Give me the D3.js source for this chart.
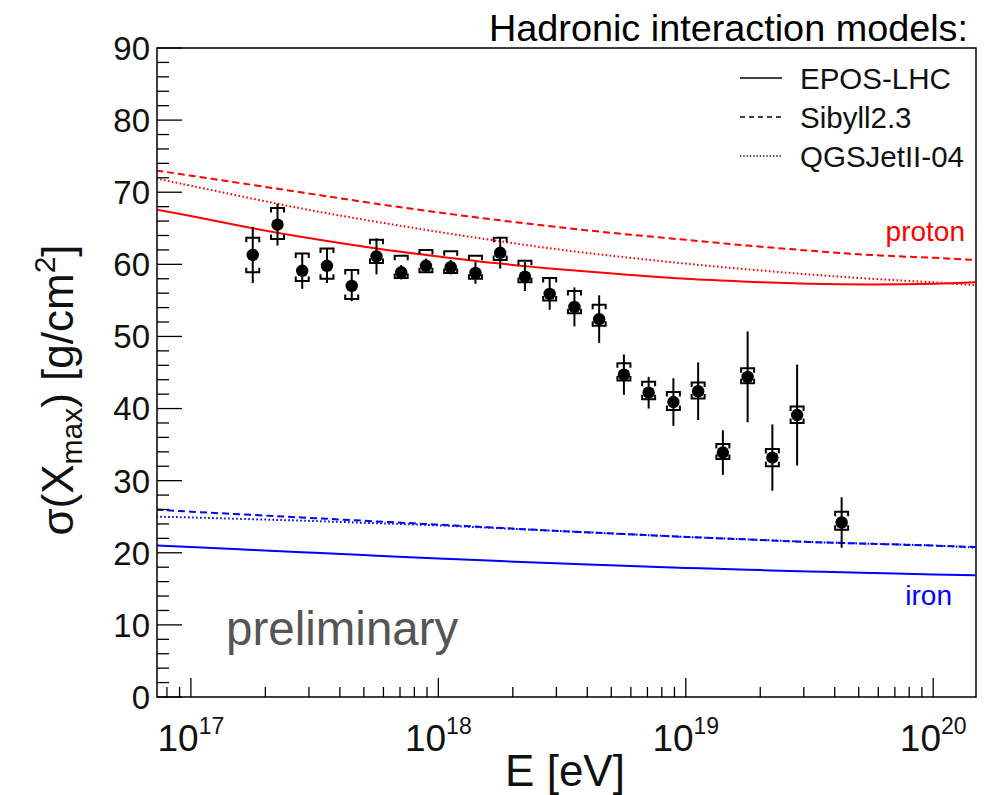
<!DOCTYPE html>
<html><head><meta charset="utf-8">
<script src="https://cdn.jsdelivr.net/npm/d3@7"></script>
<style>
body{margin:0;background:#fff}
svg{display:block}
text{font-family:"Liberation Sans",Arial,Helvetica,sans-serif}
</style>
</head><body><div id="chart"></div>
<script>
// ---- data ----
const logE = [17.25,17.35,17.45,17.55,17.65,17.75,17.85,17.95,18.05,18.15,18.25,18.35,18.45,18.55,18.65,18.75,18.85,18.95,19.05,19.15,19.25,19.35,19.45,19.63];
const sigma = [61.3,65.5,59.1,59.8,57.0,61.1,58.9,59.8,59.6,58.8,61.6,58.3,55.9,54.1,52.4,44.7,42.2,40.9,42.4,33.9,44.4,33.2,39.1,24.2];
const statErr = [3.9,2.9,2.5,2.4,2.1,2.5,1.0,1.0,1.0,1.5,2.2,2.0,2.2,2.7,3.3,2.8,2.2,3.3,4.0,3.1,6.3,4.6,7.0,3.5];
const sysUp = [2.4,2.3,2.4,2.4,2.2,2.3,2.3,2.2,2.2,2.4,2.1,2.2,2.2,2.2,2.0,1.6,1.5,1.4,1.2,1.2,1.2,1.2,1.2,1.5];
const sysDn = [2.4,2.0,1.4,1.8,1.8,0.9,0.8,0.9,0.8,0.8,1.0,0.8,0.9,0.9,0.9,0.8,0.9,1.1,1.0,0.9,0.9,1.2,1.1,1.0];

const modelLogE = [16.86,17.0,17.25,17.5,17.75,18.0,18.25,18.5,18.75,19.0,19.25,19.5,19.75,20.0,20.17];
const eposP = [67.6,66.7,65.0,63.5,62.2,61.1,60.1,59.3,58.6,58.0,57.6,57.3,57.2,57.3,57.5];
const sibyllP = [73.0,72.3,71.0,69.7,68.4,67.2,66.1,65.1,64.2,63.4,62.6,61.9,61.3,60.9,60.6];
const qgsjetP = [71.9,70.9,69.1,67.4,65.9,64.5,63.2,62.0,61.0,60.1,59.3,58.6,58.0,57.5,57.1];
const eposFe = [21.0,20.8,20.4,20.0,19.6,19.2,18.85,18.5,18.2,17.9,17.65,17.4,17.2,17.0,16.9];
const sibyllFe = [26.0,25.7,25.25,24.8,24.35,23.9,23.45,23.0,22.6,22.2,21.85,21.5,21.25,21.0,20.8];
const qgsjetFe = [25.0,24.9,24.65,24.4,24.1,23.8,23.4,23.0,22.6,22.2,21.85,21.5,21.25,21.0,20.7];

const yTicks = [0,10,20,30,40,50,60,70,80,90];
const xDecades = [17,18,19,20];
const legendLabels = ["EPOS-LHC","Sibyll2.3","QGSJetII-04"];

// ---- layout ----
const W = 984, H = 795;
const L = 157, R = 976, T = 48, B = 697;
const svg = d3.select("#chart").append("svg").attr("width", W).attr("height", H);

const x = d3.scaleLog().domain([Math.pow(10,16.863), Math.pow(10,20.173)]).range([L, R]);
const y = d3.scaleLinear().domain([0, 90]).range([B, T]);

svg.append("clipPath").attr("id","clip").append("rect")
  .attr("x",L).attr("y",T).attr("width",R-L).attr("height",B-T);

// ---- model curves ----
const dashStyles = {solid:null, dash:"7,4", dot:"1.6,2.4"};
const models = [
  {v:eposP, c:"#ff0000", d:"solid"},
  {v:sibyllP, c:"#ff0000", d:"dash"},
  {v:qgsjetP, c:"#ff0000", d:"dot"},
  {v:eposFe, c:"#0000ff", d:"solid"},
  {v:sibyllFe, c:"#0000ff", d:"dash"},
  {v:qgsjetFe, c:"#0000ff", d:"dot"}
];
const line = d3.line().curve(d3.curveNatural)
  .x(d => x(Math.pow(10,d[0]))).y(d => y(d[1]));
const gm = svg.append("g").attr("clip-path","url(#clip)");
models.forEach(m => {
  gm.append("path")
    .attr("d", line(modelLogE.map((e,i)=>[e, m.v[i]])))
    .attr("fill","none").attr("stroke",m.c).attr("stroke-width",2)
    .attr("stroke-dasharray", dashStyles[m.d]);
});

// ---- data points ----
const gd = svg.append("g");
logE.forEach((e,i) => {
  const cx = x(Math.pow(10,e)), v = sigma[i];
  gd.append("line").attr("x1",cx).attr("x2",cx)
    .attr("y1",y(v+statErr[i])).attr("y2",y(v-statErr[i]))
    .attr("stroke","#000").attr("stroke-width",2);
  const hw = 6.5, leg = 4.5;
  const yu = y(v+sysUp[i]), yd = y(v-sysDn[i]);
  gd.append("path")
    .attr("d",`M${cx-hw},${yu+leg}V${yu}H${cx+hw}V${yu+leg}`)
    .attr("fill","none").attr("stroke","#000").attr("stroke-width",2);
  gd.append("path")
    .attr("d",`M${cx-hw},${yd-leg}V${yd}H${cx+hw}V${yd-leg}`)
    .attr("fill","none").attr("stroke","#000").attr("stroke-width",2);
  gd.append("circle").attr("cx",cx).attr("cy",y(v)).attr("r",6.2).attr("fill","#000");
});

// ---- frame & ticks ----
svg.append("rect").attr("x",L).attr("y",T).attr("width",R-L).attr("height",B-T)
  .attr("fill","none").attr("stroke","#000").attr("stroke-width",1.5);

const ga = svg.append("g").attr("stroke","#000").attr("stroke-width",1.3);
for (let v = 0; v <= 90; v += 2) {
  const major = v % 10 === 0;
  ga.append("line").attr("x1",L).attr("x2",L + (major?25:12))
    .attr("y1",y(v)).attr("y2",y(v));
}
for (let d = 16; d <= 20; d++) {
  for (let k = 1; k <= 9; k++) {
    const px = x(k*Math.pow(10,d));
    if (px < L || px > R) continue;
    ga.append("line").attr("x1",px).attr("x2",px)
      .attr("y1",B).attr("y2",B - (k===1?19:10));
  }
}

// y tick labels
svg.append("g").selectAll("text").data(yTicks).join("text")
  .attr("x",150).attr("y",d=>y(d)).attr("dy","0.36em")
  .attr("text-anchor","end").attr("font-size",33).attr("fill","#111")
  .text(d=>d);

// x tick labels
xDecades.forEach(d => {
  const t = svg.append("text").attr("x", x(Math.pow(10,d))).attr("y",751)
    .attr("text-anchor","middle").attr("font-size",37).attr("fill","#111");
  t.append("tspan").text("10");
  t.append("tspan").attr("dy",-17).attr("font-size",23).text(String(d));
});

// axis titles
svg.append("text").attr("x",565).attr("y",786).attr("text-anchor","middle")
  .attr("font-size",44).attr("fill","#111").text("E [eV]");

const yt = svg.append("text").attr("transform","translate(73,390) rotate(-90)")
  .attr("text-anchor","middle").attr("font-size",44).attr("fill","#111");
yt.append("tspan").text("σ(X");
yt.append("tspan").attr("font-size",30).attr("dy",9).text("max");
yt.append("tspan").attr("dy",-9).text(") [g/cm");
yt.append("tspan").attr("font-size",30).attr("dy",-18).text("2");
yt.append("tspan").attr("dy",18).text("]");

// header
svg.append("text").attr("x",968).attr("y",41).attr("text-anchor","end")
  .attr("font-size",37.8).attr("fill","#000").text("Hadronic interaction models:");

// legend
const legY = [78,117,156];
const legD = ["solid","dash","dot"];
legendLabels.forEach((lab,i) => {
  svg.append("line").attr("x1",740).attr("x2",782).attr("y1",legY[i]).attr("y2",legY[i])
    .attr("stroke","#000").attr("stroke-width",1.5).attr("stroke-dasharray",
      legD[i]==="dash" ? "5,4" : legD[i]==="dot" ? "1.3,2" : null);
  svg.append("text").attr("x",800).attr("y",legY[i]).attr("dy","0.36em")
    .attr("font-size",29.5).attr("fill","#111").text(lab);
});

// labels
svg.append("text").attr("x",965).attr("y",231).attr("dy","0.36em").attr("text-anchor","end")
  .attr("font-size",28).attr("fill","#ff0000").text("proton");
svg.append("text").attr("x",952).attr("y",595).attr("dy","0.36em").attr("text-anchor","end")
  .attr("font-size",28).attr("fill","#0000ff").text("iron");
svg.append("text").attr("x",226).attr("y",645)
  .attr("font-size",47.5).attr("fill","#555").text("preliminary");
</script>
</body></html>
